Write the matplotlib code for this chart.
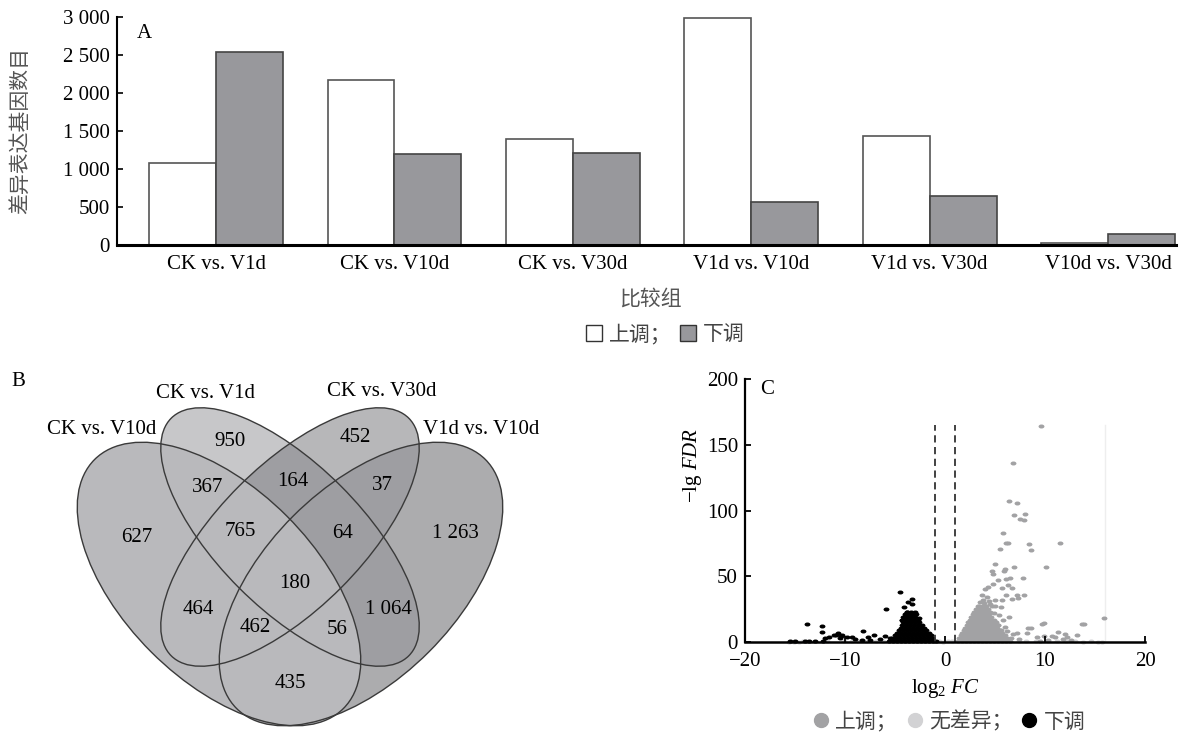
import matplotlib
matplotlib.use('Agg')
import matplotlib.pyplot as plt
from matplotlib.patches import Ellipse, Patch
from matplotlib.lines import Line2D
from matplotlib.path import Path

plt.rcParams['font.family'] = ['Liberation Serif', 'Noto Sans CJK SC']
plt.rcParams['mathtext.fontset'] = 'custom'
plt.rcParams['mathtext.rm'] = 'Liberation Serif'
plt.rcParams['mathtext.it'] = 'Liberation Serif:italic'
plt.rcParams['font.size'] = 15

W, H = 1181, 734

# ---- A: 差异表达基因数目
groups = ['CK vs. V1d', 'CK vs. V10d', 'CK vs. V30d', 'V1d vs. V10d', 'V1d vs. V30d', 'V10d vs. V30d']
up_counts = [1080, 2170, 1390, 2996, 1430, 25]
down_counts = [2540, 1200, 1210, 570, 650, 150]
yticks_a = [0, 500, 1000, 1500, 2000, 2500, 3000]

# ---- B: Venn
venn_sets = ['CK vs. V10d', 'CK vs. V1d', 'CK vs. V30d', 'V1d vs. V10d']
venn_counts = [627, 950, 452, 1263, 367, 164, 37, 765, 64, 180, 464, 1064, 462, 56, 435]

# ---- C: volcano (log2FC, -lg FDR)
up_points = [(9.6, 164), (6.8, 136), (6.4, 107.5), (7.2, 105.7), (6.9, 96.3), (8.0, 97), (7.5, 93.8),
             (7.9, 92.5), (5.8, 82.6), (6.1, 75.5), (6.3, 75.5), (8.4, 74.8), (11.5, 75.3), (5.5, 71),
             (8.6, 70), (5.0, 59.6), (6.0, 55.3), (5.9, 54), (6.9, 56.8), (4.7, 54), (4.8, 51.5),
             (10.1, 56.8), (5.3, 47.2), (6.1, 47.7), (6.5, 48.4), (7.8, 48.4), (4.8, 44), (4.3, 42),
             (4.0, 40), (6.3, 43.4), (5.7, 40.8), (6.7, 41.3), (3.7, 36), (4.2, 34.3), (3.8, 31.7),
             (5.0, 31.7), (4.5, 29), (6.1, 36), (7.2, 35.8), (7.9, 35.8), (7.3, 33.2), (5.7, 31.7),
             (6.7, 32.5), (3.3, 27.5), (3.6, 26.6), (3.2, 25.3), (4.2, 25.3), (5.0, 27.5), (5.6, 26.6),
             (6.4, 19.3), (5.0, 14), (5.3, 13.3), (4.3, 17), (6.2, 8.5), (7.2, 7), (8.3, 10.8),
             (8.6, 10.3), (9.7, 14), (9.9, 14.6), (13.7, 13.5), (13.9, 14), (15.9, 18.6), (8.2, 7),
             (9.2, 3.9), (9.9, 4.7), (11.3, 7.5), (12.0, 6.3), (12.2, 3.9), (13.2, 5.5), (10.7, 4.7),
             (11.0, 3.9), (10.3, 1.5), (11.8, 2.0), (12.6, 1.2), (9.5, 1.0), (4.4, 31.0), (3.9, 29.5),
             (4.9, 22.0), (5.4, 20.5), (5.8, 16.5), (6.0, 11.5), (6.8, 6.0), (6.6, 3.0), (7.4, 2.5),
             (5.6, 9.5), (4.7, 27.0), (3.5, 30.5)]
up_blob_rows = [
    (1, [1.3, 1.7, 2.1, 2.5, 2.9, 3.3, 3.7, 4.1, 4.5, 4.9, 5.3, 5.7, 6.1, 6.5]),
    (3, [1.4, 1.8, 2.2, 2.6, 3.0, 3.4, 3.8, 4.2, 4.6, 5.0, 5.4, 5.8, 6.2]),
    (5, [1.6, 2.0, 2.4, 2.8, 3.2, 3.6, 4.0, 4.4, 4.8, 5.2, 5.6, 6.0]),
    (7, [1.7, 2.1, 2.5, 2.9, 3.3, 3.7, 4.1, 4.5, 4.9, 5.3, 5.7]),
    (9, [1.9, 2.3, 2.7, 3.1, 3.5, 3.9, 4.3, 4.7, 5.1, 5.5]),
    (11, [2.0, 2.4, 2.8, 3.2, 3.6, 4.0, 4.4, 4.8, 5.2]),
    (13, [2.2, 2.6, 3.0, 3.4, 3.8, 4.2, 4.6, 5.0, 5.3]),
    (15, [2.3, 2.7, 3.1, 3.5, 3.9, 4.3, 4.7, 5.1]),
    (17, [2.5, 2.9, 3.3, 3.7, 4.1, 4.5, 4.9]),
    (19, [2.6, 3.0, 3.4, 3.8, 4.2, 4.6]),
    (21, [2.8, 3.2, 3.6, 4.0, 4.4]),
    (23, [2.9, 3.3, 3.7, 4.1, 4.5]),
    (25, [3.1, 3.5, 3.9, 4.3]),
    (27, [3.4, 3.8, 4.1]),
]
down_points = [(-4.5, 38.3), (-3.3, 32.5), (-3.7, 30.7), (-3.3, 29), (-5.9, 25.1), (-4.1, 26.9),
               (-3.8, 23.1), (-13.8, 13.9), (-12.3, 12.2), (-12.3, 7.9), (-8.2, 8.4), (-10.7, 6.6),
               (-10.9, 5.3), (-10.4, 4.6), (-9.8, 4.1), (-9.3, 4.1), (-10.5, 3.3), (-7.1, 5.3),
               (-7.7, 4.1), (-6.0, 4.6), (-5.5, 3.3), (-11.6, 4.1), (-12.0, 2.8), (-9.0, 2.3),
               (-8.3, 1.5), (-7.5, 1.5), (-11.1, 5.0), (-10.3, 5.2), (-6.5, 2.0), (-12.2, 0.8),
               (-13.0, 0.6), (-15.5, 0.4), (-15.0, 0.4), (-14.0, 0.5), (-13.6, 0.4),
               (-4.0, 20), (-3.5, 22), (-3.0, 21), (-4.3, 17), (-2.6, 18)]
down_blob_rows = [
    (1, [-5.6, -5.2, -4.8, -4.4, -4.0, -3.6, -3.2, -2.8, -2.4, -2.0, -1.6, -1.2, -0.9]),
    (3, [-5.3, -4.9, -4.5, -4.1, -3.7, -3.3, -2.9, -2.5, -2.1, -1.7, -1.3]),
    (5, [-5.0, -4.6, -4.2, -3.8, -3.4, -3.0, -2.6, -2.2, -1.8, -1.4]),
    (7, [-4.8, -4.4, -4.0, -3.6, -3.2, -2.8, -2.4, -2.0, -1.6]),
    (9, [-4.6, -4.2, -3.8, -3.4, -3.0, -2.6, -2.2, -1.9]),
    (11, [-4.4, -4.0, -3.6, -3.2, -2.8, -2.4, -2.1]),
    (13, [-4.3, -3.9, -3.5, -3.1, -2.7, -2.3]),
    (15, [-4.2, -3.8, -3.4, -3.0, -2.6]),
    (17, [-4.3, -3.9, -3.5, -3.1, -2.7]),
    (19, [-4.2, -3.8, -3.4, -3.0]),
    (21, [-4.0, -3.6, -3.2, -2.9]),
    (23, [-3.8, -3.4, -3.0]),
]
ns_points = [(-15.6, 0.3), (-15.1, 0.3), (-14.6, 0.3), (-14.2, 0.4), (-11.8, 0.4), (-10.1, 0.5),
             (-9.3, 0.4), (-8.7, 0.5), (-7.9, 0.4), (-6.9, 0.6), (-6.2, 0.5), (-0.6, 0.5), (-0.2, 0.3),
             (0.3, 0.4), (0.7, 0.6), (7.4, 0.5), (8.1, 0.4), (9.1, 0.5), (10.3, 0.6), (11.2, 0.4),
             (12.1, 0.5), (13.0, 0.4), (13.8, 0.3), (14.6, 0.4), (15.3, 0.3), (15.7, 0.3)]
fc_cut = [-1, 1]

c_up, c_ns, c_down = '#a2a2a4', '#d2d2d4', '#000000'
bar_gray = '#98989c'


def fmt(n):
    return f'{n:,}'.replace(',', ' ')


def px(x, y):
    return x / W, 1 - y / H


fig = plt.figure(figsize=(W / 100, H / 100), dpi=100)

# ---------------- panel B (pixel space axes)
axv = fig.add_axes([0, 0, 1, 1])
axv.set_xlim(0, W)
axv.set_ylim(H, 0)
axv.axis('off')
axv.patch.set_alpha(0)

ell_A = dict(xy=(219, 584), width=352, height=192, angle=45)
ell_D = dict(xy=(361, 584), width=352, height=192, angle=-45)
ell_B = dict(xy=(290, 537), width=336, height=144, angle=45)
ell_C = dict(xy=(290, 537), width=336, height=144, angle=-45)

axv.add_patch(Ellipse(**ell_D, facecolor='#acacae', edgecolor='none'))
axv.add_patch(Ellipse(**ell_C, facecolor='#b7b7b9', edgecolor='none'))
axv.add_patch(Ellipse(**ell_B, facecolor='#c7c7c9', edgecolor='none'))
for e1, e2 in [(ell_B, ell_C), (ell_B, ell_D), (ell_C, ell_D)]:
    p = axv.add_patch(Ellipse(**e1, facecolor='#9e9ea2', edgecolor='none'))
    p.set_clip_path(Ellipse(**e2, transform=axv.transData))
axv.add_patch(Ellipse(**ell_A, facecolor='#b9b9bc', edgecolor='none'))
for e in (ell_A, ell_B, ell_C, ell_D):
    axv.add_patch(Ellipse(**e, facecolor='none', edgecolor='#3a3a3a', lw=1.0))

count_pos = [(137, 537), (230, 442), (355, 437), (455, 533), (208, 487), (293, 481), (382, 485),
             (240, 532), (343, 533), (295, 583), (198, 609), (388, 609), (255, 628), (337, 630),
             (290, 683)]
for n, (x, y) in zip(venn_counts, count_pos):
    axv.text(x, y, fmt(n), ha='center', va='center', fontsize=15)
set_pos = [(102, 430), (205, 394), (382, 392), (481, 430)]
for s, (x, y) in zip(venn_sets, set_pos):
    axv.text(x, y, s, ha='center', va='center', fontsize=15)
axv.text(18, 381, 'B', ha='center', va='center', fontsize=15)

# ---------------- panel A
axA = fig.add_axes([117 / W, 1 - 245 / H, (1176 - 117) / W, (245 - 17.3) / H])
xs = list(range(len(groups)))
bw = 0.375
axA.bar([x - bw / 2 for x in xs], up_counts, bw, color='white', edgecolor='#555555', lw=1.2)
axA.bar([x + bw / 2 for x in xs], down_counts, bw, color=bar_gray, edgecolor='#444444', lw=1.2)
axA.set_xlim(-0.555, 5.381)
axA.set_ylim(0, 3000)
axA.set_xticks(xs)
axA.set_xticklabels(groups)
axA.set_yticks(yticks_a)
axA.set_yticklabels([fmt(v) for v in yticks_a])
axA.tick_params(axis='x', length=0, pad=7, labelsize=15)
axA.tick_params(axis='y', direction='in', length=4, width=1.2, pad=5, labelsize=15)
for s in ('top', 'right'):
    axA.spines[s].set_visible(False)
axA.spines['left'].set_linewidth(1.5)
axA.spines['bottom'].set_linewidth(2.2)
axA.patch.set_alpha(0)
axA.text((144 - 117) / (1176 - 117), (245 - 33) / 227.7, 'A', transform=axA.transAxes,
         ha='center', va='center', fontsize=15)
fig.text(*px(21, 130), '差异表达基因数目', rotation=90, ha='center', va='center', fontsize=15,
         color='#555555')
fig.text(*px(650, 300), '比较组', ha='center', va='center', fontsize=15, color='#555555')
fig.legend(handles=[Patch(facecolor='white', edgecolor='#333333', lw=1),
                    Patch(facecolor=bar_gray, edgecolor='#333333', lw=1)],
           labels=['上调；', '下调'], loc='center', bbox_to_anchor=px(665, 335), ncol=2,
           frameon=False, handlelength=0.8, handleheight=0.8, handletextpad=0.3,
           columnspacing=0.4, fontsize=15, labelcolor='#444444')

# ---------------- panel C
axC = fig.add_axes([745 / W, 1 - 642 / H, 400 / W, 263 / H])
circ = Path.unit_circle()
oval = Path(circ.vertices * [1.0, 0.68], circ.codes)

ns_x = [p[0] for p in ns_points]
ns_y = [p[1] for p in ns_points]
up_x = [p[0] for p in up_points] + [x for y, row in up_blob_rows for x in row]
up_y = [p[1] for p in up_points] + [y for y, row in up_blob_rows for x in row]
dn_x = [p[0] for p in down_points] + [x for y, row in down_blob_rows for x in row]
dn_y = [p[1] for p in down_points] + [y for y, row in down_blob_rows for x in row]

axC.scatter(ns_x, ns_y, s=18, marker=oval, color=c_ns, lw=0, clip_on=False)
axC.scatter(up_x, up_y, s=18, marker=oval, color=c_up, lw=0, clip_on=False)
axC.scatter(dn_x, dn_y, s=18, marker=oval, color=c_down, lw=0, clip_on=False)
axC.axvline(16, ymax=165 / 200, color='#eeeeee', lw=1, zorder=0)
for x in fc_cut:
    axC.axvline(x, ymax=165 / 200, color='#333333', lw=1.3, ls=(0, (4, 2.5)))
axC.set_xlim(-20, 20)
axC.set_ylim(0, 200)
axC.set_xticks([-20, -10, 0, 10, 20])
axC.set_yticks([0, 50, 100, 150, 200])
axC.tick_params(direction='in', length=4, width=1.3, labelsize=15)
axC.tick_params(axis='x', pad=7)
axC.tick_params(axis='y', pad=5)
for s in ('top', 'right'):
    axC.spines[s].set_visible(False)
axC.spines['left'].set_linewidth(1.6)
axC.spines['bottom'].set_linewidth(1.8)
axC.patch.set_alpha(0)
axC.text(22 / 400, (642 - 390) / 263, 'C', transform=axC.transAxes, ha='center', va='center',
         fontsize=15)
fig.text(*px(692, 465), r'$-\mathrm{lg}\ \mathit{FDR}$', rotation=90, ha='center', va='center',
         fontsize=15)
fig.text(*px(945, 688), r'$\mathrm{log}_2\ \mathit{FC}$', ha='center', va='center', fontsize=15)
fig.legend(handles=[Line2D([], [], ls='', marker='o', ms=10, color=c) for c in (c_up, c_ns, c_down)],
           labels=['上调；', '无差异；', '下调'], loc='center', bbox_to_anchor=px(949, 722), ncol=3,
           frameon=False, handlelength=0.8, handletextpad=0.3, columnspacing=0.4, fontsize=15,
           labelcolor='#444444')

fig.savefig('out.png', dpi=100)
